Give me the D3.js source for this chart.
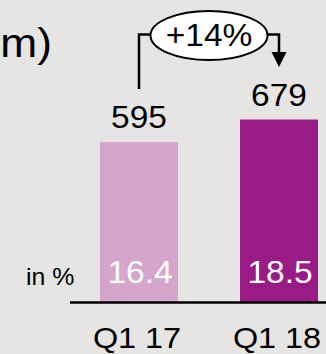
<!DOCTYPE html>
<html>
<head>
<meta charset="utf-8">
<script src="https://cdn.jsdelivr.net/npm/d3@7/dist/d3.min.js"></script>
<style>
  html, body { margin: 0; padding: 0; background: #e6e5e3; }
  svg { display: block; font-family: "Liberation Sans", Arial, sans-serif; }
</style>
</head>
<body>
<script>
// Quarterly figures (€ m) and margin in %
const quarters = ["Q1 17", "Q1 18"];
const amounts = [595, 679];
const margins = ["16.4", "18.5"];
const barColors = ["#d6a5cc", "#9b1b86"];
const unitLabel = "in %";
const titleTail = "m)";

const W = 326, H = 354;
const svg = d3.select("body").append("svg").attr("width", W).attr("height", H);

svg.append("rect").attr("width", W).attr("height", H).attr("fill", "#e6e5e3");

const x = d3.scaleBand().domain(quarters).range([100, 318])
  .paddingInner(62 / 140).paddingOuter(0);
const y = d3.scaleLinear().domain([0, 800]).range([302, 87]);

const data = quarters.map((q, i) => ({ q, v: amounts[i], m: margins[i], c: barColors[i] }));

// slightly widened lettering
const wide = (sel, cx, cy) => sel.attr("transform", `translate(${cx},${cy}) scale(1.08,1)`);

// title fragment
svg.append("text").attr("text-anchor", "end")
  .attr("font-size", 41).attr("fill", "#000").text(titleTail)
  .call(wide, 52, 57);

// bars
svg.selectAll("rect.bar").data(data).join("rect").attr("class", "bar")
  .attr("x", d => x(d.q)).attr("width", x.bandwidth())
  .attr("y", d => y(d.v)).attr("height", d => y(0) - y(d.v))
  .attr("fill", d => d.c);

// value labels above bars
svg.selectAll("text.val").data(data).join("text").attr("class", "val")
  .attr("text-anchor", "middle").attr("font-size", 31).attr("fill", "#000")
  .attr("transform", d => `translate(${x(d.q) + x.bandwidth() / 2},${y(d.v) - 14}) scale(1.08,1)`)
  .text(d => d.v);

// margin labels inside bars
svg.selectAll("text.mg").data(data).join("text").attr("class", "mg")
  .attr("text-anchor", "middle").attr("font-size", 31).attr("fill", "#fff")
  .attr("transform", d => `translate(${x(d.q) + x.bandwidth() / 2 + 1},283) scale(1.08,1)`)
  .text(d => d.m);

svg.append("text").attr("font-size", 23)
  .attr("fill", "#000").text(unitLabel).call(wide, 26, 285);

// baseline
svg.append("line").attr("x1", 70).attr("x2", W).attr("y1", y(0) + 0.5).attr("y2", y(0) + 0.5)
  .attr("stroke", "#000").attr("stroke-width", 2.5);

// category labels
svg.selectAll("text.cat").data(data).join("text").attr("class", "cat")
  .attr("text-anchor", "middle").attr("font-size", 30).attr("fill", "#000")
  .attr("transform", d => `translate(${x(d.q) + x.bandwidth() / 2 - 2},347.5) scale(1.08,1)`)
  .text(d => d.q);

// growth bracket
const x0 = x(quarters[0]) + x.bandwidth() / 2;
const x1 = x(quarters[1]) + x.bandwidth() / 2;
const by = 34.5;
const growth = Math.round((amounts[1] / amounts[0] - 1) * 100);
const ex = (x0 + x1) / 2, ey = 35.5, rx = 58.5, ry = 24.5;

svg.append("path")
  .attr("d", `M${x0},89 V${by} H${ex}`)
  .attr("fill", "none").attr("stroke", "#000").attr("stroke-width", 2.5);
svg.append("path")
  .attr("d", `M${ex},${by} H${x1} V54`)
  .attr("fill", "none").attr("stroke", "#000").attr("stroke-width", 2.5);
svg.append("path")
  .attr("d", `M${x1 - 7.5},52 L${x1 + 7.5},52 L${x1},67 Z`)
  .attr("fill", "#000");
svg.append("ellipse").attr("cx", ex).attr("cy", ey).attr("rx", rx).attr("ry", ry)
  .attr("fill", "#fff").attr("stroke", "#000").attr("stroke-width", 2);
svg.append("text").attr("text-anchor", "middle")
  .attr("font-size", 31).attr("fill", "#000").text("+" + growth + "%")
  .call(wide, ex, 45.5);
</script>
</body>
</html>
